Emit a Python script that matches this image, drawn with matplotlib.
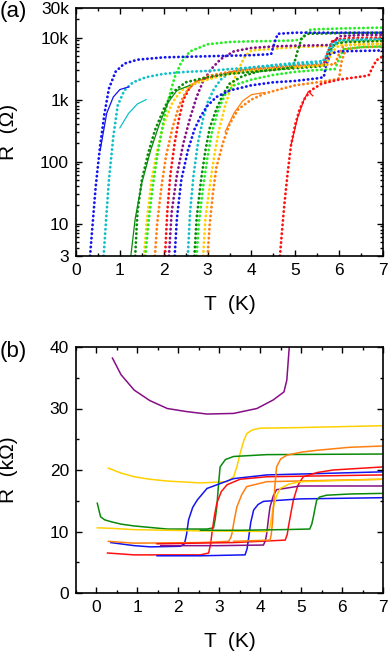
import matplotlib
matplotlib.use('Agg')
import matplotlib.pyplot as plt
from matplotlib.ticker import FixedLocator, MultipleLocator, LogLocator, NullFormatter

plt.rcParams['font.family'] = ['Liberation Sans', 'DejaVu Sans']

# ---- panel (a): R(T) on log scale, dotted curves ----
a_blue1_T = [0.32, 0.38, 0.45, 0.55, 0.65, 0.75, 0.9, 1.1, 1.4, 2.0, 3.0, 4.0, 4.45, 4.52, 4.6, 5.0, 6.0, 7.0]
a_blue1_R = [3, 10, 40, 180, 600, 1500, 2800, 3800, 4400, 4800, 5000, 5200, 5400, 8000, 11500, 12000, 12000, 12000]
a_cyan1_T = [0.63, 0.68, 0.75, 0.85, 0.95, 1.1, 1.3, 1.6, 2.0, 2.5, 3.0, 3.5, 4.0, 4.5, 5.0, 5.6, 5.7, 5.8, 6.0, 6.5, 7.0]
a_cyan1_R = [3, 10, 50, 250, 800, 1400, 1900, 2300, 2600, 2800, 2900, 3100, 3300, 3500, 3700, 3900, 5000, 7500, 9000, 9300, 9500]
a_dkgreen1_T = [1.35, 1.4, 1.5, 1.65, 1.8, 2.0, 2.2, 2.5, 3.0, 3.5, 4.0, 4.5, 4.95, 5.05, 5.15, 5.3, 6.0, 7.0]
a_dkgreen1_R = [3, 15, 50, 140, 320, 700, 1300, 1900, 2300, 2600, 2800, 3000, 3300, 6000, 10000, 11500, 11800, 12000]
a_lime1_T = [1.58, 1.65, 1.75, 1.85, 1.95, 2.05, 2.15, 2.25, 2.4, 2.6, 3.0, 3.5, 4.0, 4.5, 5.0, 5.15, 5.25, 5.35, 6.0, 7.0]
a_lime1_R = [3, 10, 40, 120, 300, 700, 1300, 2300, 4000, 6000, 7800, 8500, 8700, 8800, 9000, 9500, 12000, 13500, 14000, 14500]
a_yellow1_T = [1.55, 1.62, 1.72, 1.85, 2.0, 2.2, 2.4, 2.6, 2.8, 3.0, 3.3, 3.6, 4.0, 4.5, 5.0, 5.5, 5.7, 5.85, 6.0, 7.0]
a_yellow1_R = [3, 12, 50, 150, 400, 900, 1400, 1700, 1900, 2100, 2400, 2700, 2900, 3100, 3300, 3500, 3600, 6000, 7500, 8000]
a_orange1_T = [1.8, 1.85, 1.95, 2.05, 2.2, 2.35, 2.5, 2.7, 3.0, 3.5, 4.0, 4.5, 5.0, 5.5, 5.9, 6.0, 6.1, 6.5, 7.0]
a_orange1_R = [3, 10, 40, 120, 350, 800, 1300, 1900, 2400, 2800, 3100, 3300, 3500, 3600, 3700, 5500, 7500, 7800, 8000]
a_red1_T = [2.03, 2.08, 2.15, 2.25, 2.35, 2.45, 2.6, 2.8, 3.0, 3.5, 4.0, 4.5, 5.0, 5.5, 5.65, 5.75, 5.85, 6.2, 7.0]
a_red1_R = [3, 15, 60, 200, 500, 1000, 1600, 2000, 2200, 2700, 3000, 3200, 3400, 3600, 3700, 6000, 9000, 9800, 10000]
a_purple1_T = [2.12, 2.18, 2.3, 2.45, 2.6, 2.75, 2.9, 3.1, 3.3, 3.6, 4.0, 4.5, 5.0, 5.5, 5.8, 5.9, 6.0, 6.5, 7.0]
a_purple1_R = [3, 15, 60, 200, 500, 1100, 2000, 3200, 4500, 6000, 6800, 7200, 7400, 7500, 7600, 9000, 10500, 11000, 11000]
a_blue2_T = [2.25, 2.3, 2.4, 2.55, 2.7, 2.85, 3.0, 3.2, 3.5, 4.0, 4.5, 5.0, 5.5, 5.65, 5.7, 5.8, 6.0, 7.0]
a_blue2_R = [3, 12, 50, 150, 330, 550, 800, 1100, 1400, 1700, 1900, 2000, 2200, 2300, 3500, 5500, 6000, 6200]
a_cyan2_T = [2.55, 2.6, 2.68, 2.78, 2.9, 3.0, 3.15, 3.3, 3.5, 4.0, 4.5, 5.0, 5.5, 5.75, 5.85, 6.0, 7.0]
a_cyan2_R = [3, 15, 60, 200, 500, 900, 1500, 2100, 2700, 3300, 3600, 3900, 4100, 4300, 7000, 9000, 9500]
a_dkgreen2_T = [2.7, 2.75, 2.85, 2.95, 3.05, 3.2, 3.35, 3.5, 3.8, 4.2, 4.6, 5.0, 5.5, 5.65, 5.75, 5.9, 6.2, 7.0]
a_dkgreen2_R = [3, 12, 50, 150, 350, 700, 1200, 1800, 2400, 2900, 3100, 3200, 3400, 3500, 5500, 8000, 8500, 8800]
a_lime2_T = [2.75, 2.8, 2.9, 3.0, 3.1, 3.25, 3.4, 3.6, 4.0, 4.5, 5.0, 5.5, 5.9, 6.0, 6.1, 6.5, 7.0]
a_lime2_R = [3, 10, 40, 120, 300, 700, 1200, 1700, 2100, 2500, 2800, 3000, 3100, 4500, 6500, 7000, 7200]
a_yellow2_T = [2.9, 2.95, 3.05, 3.15, 3.25, 3.4, 3.55, 3.7, 3.85, 4.0, 4.5, 5.0, 5.5, 5.9, 6.0, 6.5, 7.0]
a_yellow2_R = [3, 12, 40, 120, 300, 800, 1700, 3000, 5000, 6200, 6600, 7000, 7200, 7400, 8500, 8700, 9000]
a_orange2_T = [3.0, 3.05, 3.12, 3.2, 3.35, 3.5, 3.7, 4.0, 4.3, 4.7, 5.0, 5.5, 5.9, 6.0, 6.05, 6.15, 6.5, 7.0]
a_orange2_R = [3, 10, 30, 80, 200, 400, 700, 1000, 1250, 1500, 1700, 1900, 2100, 2200, 4000, 6500, 7000, 7200]
a_red2_T = [4.65, 4.7, 4.75, 4.82, 4.9, 5.0, 5.1, 5.2, 5.35, 5.6, 6.0, 6.4, 6.6, 6.68, 6.75, 6.85, 7.0]
a_red2_R = [3, 8, 20, 60, 180, 400, 700, 1000, 1400, 1800, 2100, 2300, 2400, 2500, 3200, 4300, 5000]

# thin fit lines in (a)
a_fit_blue_T = [0.55, 0.7, 0.85, 1.0, 1.2]
a_fit_blue_R = [150, 600, 1100, 1450, 1600]
a_fit_cyan_T = [1.0, 1.2, 1.4, 1.6]
a_fit_cyan_R = [350, 600, 850, 1000]
a_fit_dkgreen_T = [1.25, 1.35, 1.5, 1.7, 1.9, 2.1, 2.3, 2.6]
a_fit_dkgreen_R = [3, 12, 45, 150, 400, 900, 1400, 1700]
a_fit_orange_T = [3.4, 3.6, 3.8, 4.0, 4.3]
a_fit_orange_R = [300, 600, 950, 1200, 1300]
a_fit_red_T = [4.9, 5.05, 5.2, 5.3, 5.4]
a_fit_red_R = [180, 500, 1000, 1350, 1150]

a_yticks = [3, 10, 100, 1000, 10000, 30000]
a_ylabels = ['3', '10', '100', '1k', '10k', '30k']

# ---- panel (b): R(T) linear, kOhm ----
b_purple1_T = [0.39, 0.6, 0.92, 1.3, 1.73, 2.2, 2.7, 3.35, 3.92, 4.32, 4.58, 4.65, 4.71, 4.75]
b_purple1_R = [38.2, 35.5, 33.0, 31.3, 30.0, 29.5, 29.1, 29.2, 30.0, 31.4, 32.7, 34.6, 40.0, 42.0]
b_yellow1_T = [0.29, 0.6, 0.92, 1.3, 1.73, 2.54, 3.19, 3.35, 3.43, 3.51, 3.6, 3.67, 3.8, 4.0, 4.97, 7.0]
b_yellow1_R = [20.3, 19.5, 18.9, 18.5, 18.2, 17.9, 18.1, 18.9, 20.5, 22.7, 24.8, 25.9, 26.5, 26.8, 26.9, 27.2]
b_green1_T = [0.02, 0.1, 0.2, 0.35, 0.6, 0.92, 1.73, 2.7, 2.86, 2.9, 2.94, 2.98, 3.02, 3.15, 3.35, 4.16, 7.0]
b_green1_R = [14.6, 12.4, 11.9, 11.6, 11.2, 10.9, 10.4, 10.4, 10.6, 12.0, 14.0, 17.5, 20.5, 21.7, 22.2, 22.5, 22.6]
b_blue1_T = [0.35, 0.92, 1.32, 2.05, 2.15, 2.2, 2.25, 2.35, 2.46, 2.7, 3.35, 4.16, 7.0]
b_blue1_R = [8.2, 7.7, 7.5, 7.6, 8.0, 9.5, 11.9, 13.9, 15.1, 17.0, 18.6, 19.2, 19.7]
b_red1_T = [0.27, 0.92, 2.54, 2.74, 2.79, 2.82, 2.88, 2.94, 3.05, 3.19, 3.51, 4.16, 7.0]
b_red1_R = [6.5, 6.2, 6.2, 6.5, 8.0, 9.7, 12.5, 14.6, 16.5, 17.6, 18.5, 18.9, 19.2]
b_orange1_T = [0.29, 0.92, 2.54, 3.23, 3.28, 3.31, 3.37, 3.43, 3.55, 3.67, 4.16, 7.0]
b_orange1_R = [8.4, 8.1, 8.2, 8.4, 9.0, 9.7, 12.0, 14.0, 16.0, 17.3, 18.1, 18.5]
b_red2_T = [1.48, 3.35, 4.61, 4.66, 4.69, 4.75, 4.81, 4.92, 5.05, 5.4, 5.78, 7.0]
b_red2_R = [8.0, 8.2, 8.6, 9.5, 10.8, 13.0, 15.1, 17.5, 18.9, 19.6, 20.0, 20.5]
b_blue2_T = [1.48, 2.54, 3.63, 3.68, 3.71, 3.77, 3.84, 3.95, 4.08, 4.97, 7.0]
b_blue2_R = [6.05, 6.05, 6.2, 7.2, 8.6, 11.5, 13.5, 14.4, 14.9, 15.3, 15.5]
b_purple2_T = [1.57, 3.0, 4.08, 4.13, 4.16, 4.2, 4.24, 4.32, 4.4, 4.97, 7.0]
b_purple2_R = [7.7, 7.7, 7.8, 8.6, 9.7, 12.0, 14.0, 15.8, 16.8, 17.4, 17.4]
b_yellow2_T = [0.02, 0.4, 0.92, 1.73, 2.54, 3.35, 4.16, 4.21, 4.24, 4.28, 4.32, 4.4, 4.49, 4.7, 4.97, 7.0]
b_yellow2_R = [10.6, 10.5, 10.3, 10.2, 10.1, 10.05, 10.0, 10.2, 10.8, 12.5, 14.0, 15.8, 17.0, 17.7, 18.1, 18.5]
b_orange2_T = [3.35, 4.24, 4.27, 4.3, 4.33, 4.36, 4.4, 4.5, 4.65, 5.0, 5.38, 6.2, 7.0]
b_orange2_R = [8.4, 8.6, 9.5, 11.5, 14.5, 17.5, 20.5, 21.8, 22.4, 22.9, 23.2, 23.7, 23.9]
b_green2_T = [2.54, 3.5, 4.5, 5.21, 5.26, 5.3, 5.34, 5.38, 5.45, 5.62, 6.2, 7.0]
b_green2_R = [10.2, 10.2, 10.3, 10.4, 11.2, 12.4, 13.8, 15.1, 15.6, 15.9, 16.1, 16.2]

c_blue = '#1414f0'
c_cyan = '#10c0c8'
c_dkgreen = '#0a8a0a'
c_lime = '#22ee22'
c_yellow = '#ffd000'
c_orange = '#ff8010'
c_red = '#ff1010'
c_purple = '#860e86'

fig = plt.figure(figsize=(3.88, 6.53), dpi=100)
ax1 = fig.add_axes([76/388, 1-256/653, 307/388, 248/653])
ax2 = fig.add_axes([76/388, 1-593/653, 307/388, 246/653])

dotted = dict(lw=2.0, ls=(0, (0.1, 1.5)), dash_capstyle='round')
curves_a = [
    (a_orange2_T, a_orange2_R, c_orange),
    (a_yellow2_T, a_yellow2_R, c_yellow),
    (a_lime2_T, a_lime2_R, c_lime),
    (a_dkgreen2_T, a_dkgreen2_R, c_dkgreen),
    (a_cyan2_T, a_cyan2_R, c_cyan),
    (a_blue2_T, a_blue2_R, c_blue),
    (a_purple1_T, a_purple1_R, c_purple),
    (a_red1_T, a_red1_R, c_red),
    (a_orange1_T, a_orange1_R, c_orange),
    (a_yellow1_T, a_yellow1_R, c_yellow),
    (a_lime1_T, a_lime1_R, c_lime),
    (a_dkgreen1_T, a_dkgreen1_R, c_dkgreen),
    (a_cyan1_T, a_cyan1_R, c_cyan),
    (a_blue1_T, a_blue1_R, c_blue),
    (a_red2_T, a_red2_R, c_red),
]
for t, r, c in curves_a:
    ax1.plot(t, r, color=c, **dotted)

fits_a = [
    (a_fit_blue_T, a_fit_blue_R, c_blue),
    (a_fit_cyan_T, a_fit_cyan_R, c_cyan),
    (a_fit_dkgreen_T, a_fit_dkgreen_R, c_dkgreen),
    (a_fit_orange_T, a_fit_orange_R, c_orange),
    (a_fit_red_T, a_fit_red_R, c_red),
]
for t, r, c in fits_a:
    ax1.plot(t, r, color=c, lw=0.9)

ax1.set_yscale('log')
ax1.set_xlim(0, 7)
ax1.set_ylim(3, 30000)
ax1.yaxis.set_major_locator(FixedLocator(a_yticks))
ax1.set_yticklabels(a_ylabels)
ax1.yaxis.set_minor_locator(LogLocator(base=10, subs=[2, 3, 4, 5, 6, 7, 8, 9]))
ax1.yaxis.set_minor_formatter(NullFormatter())
ax1.xaxis.set_major_locator(MultipleLocator(1))
ax1.xaxis.set_minor_locator(MultipleLocator(0.5))
ax1.set_xlabel('T  (K)', fontsize=15, labelpad=12)
ax1.set_ylabel('R  (\u03a9)', fontsize=15)
ax1.yaxis.set_label_coords(-0.19, 0.5)

curves_b = [
    (b_purple1_T, b_purple1_R, c_purple),
    (b_yellow1_T, b_yellow1_R, c_yellow),
    (b_green1_T, b_green1_R, c_dkgreen),
    (b_blue1_T, b_blue1_R, c_blue),
    (b_red1_T, b_red1_R, c_red),
    (b_orange1_T, b_orange1_R, c_orange),
    (b_red2_T, b_red2_R, c_red),
    (b_blue2_T, b_blue2_R, c_blue),
    (b_purple2_T, b_purple2_R, c_purple),
    (b_yellow2_T, b_yellow2_R, c_yellow),
    (b_orange2_T, b_orange2_R, c_orange),
    (b_green2_T, b_green2_R, c_dkgreen),
]
for t, r, c in curves_b:
    ax2.plot(t, r, color=c, lw=1.1)

ax2.set_xlim(-0.5, 7)
ax2.set_ylim(0, 40)
ax2.xaxis.set_major_locator(MultipleLocator(1))
ax2.xaxis.set_minor_locator(MultipleLocator(0.5))
ax2.yaxis.set_major_locator(MultipleLocator(10))
ax2.yaxis.set_minor_locator(MultipleLocator(5))
ax2.set_xlabel('T  (K)', fontsize=15, labelpad=12)
ax2.set_ylabel('R  (k\u03a9)', fontsize=15)
ax2.yaxis.set_label_coords(-0.19, 0.5)

for ax in (ax1, ax2):
    for s in ax.spines.values():
        s.set_linewidth(1.2)
    ax.tick_params(which='both', direction='in', top=True, right=True, width=1.0,
                   labelsize=12.5, pad=5)
    ax.tick_params(which='major', length=4)
    ax.tick_params(which='minor', length=2)

fig.text(0.0, 1-1/653, '(a)', fontsize=16, va='top', ha='left')
fig.text(0.0, 1-352/653, '(b)', fontsize=16, va='center', ha='left')

fig.savefig('out.png', dpi=100)
